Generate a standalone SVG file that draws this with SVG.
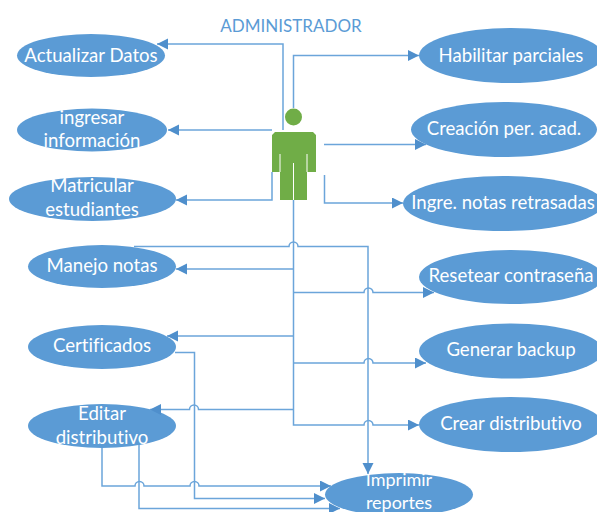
<svg xmlns="http://www.w3.org/2000/svg" width="597" height="512" viewBox="0 0 597 512">
<style>
.uc{fill:#5b9bd5}
.t{fill:#fff;font:18.6px Lato,"Liberation Sans",sans-serif;text-anchor:middle;font-variant-ligatures:none}
.c{fill:none;stroke:#6ba5da;stroke-width:1.5}
.a{marker-end:url(#ah)}
</style>
<defs><marker id="ah" markerUnits="userSpaceOnUse" markerWidth="12" markerHeight="12" refX="11" refY="5.5" orient="auto"><path d="M0 0L11 5.500L0 11Z" fill="#4f8fcc"/></marker></defs>
<rect width="597" height="512" fill="#fff"/>
<text x="291" y="32" font-family="Lato,'Liberation Sans',sans-serif" font-size="17" fill="#5b9bd5" text-anchor="middle">ADMINISTRADOR</text>
<g id="n-actualizar"><ellipse class="uc" cx="91" cy="55.5" rx="74" ry="21.5"/><text class="t" x="91" y="62">Actualizar Datos</text></g>
<g id="n-ingresar"><ellipse class="uc" cx="92" cy="130" rx="75" ry="21.5"/><text class="t" x="92" y="124">ingresar</text><text class="t" x="92" y="147">información</text></g>
<g id="n-matricular"><ellipse class="uc" cx="92.500" cy="199" rx="83.500" ry="22"/><text class="t" x="92" y="192">Matricular</text><text class="t" x="92" y="216">estudiantes</text></g>
<g id="n-manejo"><ellipse class="uc" cx="102" cy="266.5" rx="74" ry="21.5"/><text class="t" x="102" y="272">Manejo notas</text></g>
<g id="n-certificados"><ellipse class="uc" cx="102" cy="347" rx="74" ry="22"/><text class="t" x="102" y="352">Certificados</text></g>
<g id="n-editar"><ellipse class="uc" cx="102" cy="426" rx="74" ry="22"/><text class="t" x="102" y="420">Editar</text><text class="t" x="102" y="444">distributivo</text></g>
<g id="n-habilitar"><ellipse class="uc" cx="511" cy="55.5" rx="92" ry="27.500"/><text class="t" x="511" y="62">Habilitar parciales</text></g>
<g id="n-creacion"><ellipse class="uc" cx="504" cy="129.5" rx="93" ry="27.500"/><text class="t" x="504" y="135">Creación per. acad.</text></g>
<g id="n-ingre"><ellipse class="uc" cx="503" cy="203.5" rx="100" ry="27.500"/><text class="t" x="503" y="209">Ingre. notas retrasadas</text></g>
<g id="n-resetear"><ellipse class="uc" cx="511" cy="277" rx="92" ry="27"/><text class="t" x="511" y="282">Resetear contraseña</text></g>
<g id="n-generar"><ellipse class="uc" cx="511" cy="351" rx="92" ry="27.500"/><text class="t" x="511" y="356">Generar backup</text></g>
<g id="n-crear"><ellipse class="uc" cx="511" cy="424.5" rx="92" ry="27.500"/><text class="t" x="511" y="430">Crear distributivo</text></g>
<g id="n-imprimir"><ellipse class="uc" cx="399" cy="494.5" rx="74" ry="21.500"/><text class="t" x="399" y="486" style="font-size:18px">Imprimir</text><text class="t" x="399" y="508.5" style="font-size:18px">reportes</text></g>
<g id="n-actor">
<circle cx="293.5" cy="117" r="8.5" fill="#70ad47"/>
<path d="M275 132H313L316 135V172H307V200H280V172H272V135Z" fill="#70ad47"/>
<path d="M280 154V172M307 154V172M293.500 163V200" stroke="#fff" stroke-width="1" fill="none"/>
</g>
<g id="connectors">
<path class="c a" d="M283 130V44H157"/>
<path class="c a" d="M272 130H168"/>
<path class="c a" d="M272 172V200H176"/>
<path class="c a" d="M293.500 108V55.500H419"/>
<path class="c a" d="M324 144.500H426"/>
<path class="c a" d="M324.500 175V203H403"/>
<path class="c a" d="M134 246.500H289a4.500 4.500 0 0 1 9 0H368V474"/>
<path class="c a" d="M293.500 200V425H364a4.500 4.500 0 0 1 9 0H419"/>
<path class="c a" d="M293.500 269H176"/>
<path class="c a" d="M293.500 292.500H364a4.500 4.500 0 0 1 9 0H434"/>
<path class="c a" d="M293.500 336H167"/>
<path class="c a" d="M293.500 363H364a4.500 4.500 0 0 1 9 0H426"/>
<path class="c a" d="M293.500 409.500H198.500a4.500 4.500 0 0 0 -9 0H150"/>
<path class="c a" d="M175 352.500H194.500V498.500H325"/>
<path class="c a" d="M102 448V486H135a4.500 4.500 0 0 1 9 0H190a4.500 4.500 0 0 1 9 0H331"/>
<path class="c a" d="M139 445V508.500H340"/>
</g>
</svg>
